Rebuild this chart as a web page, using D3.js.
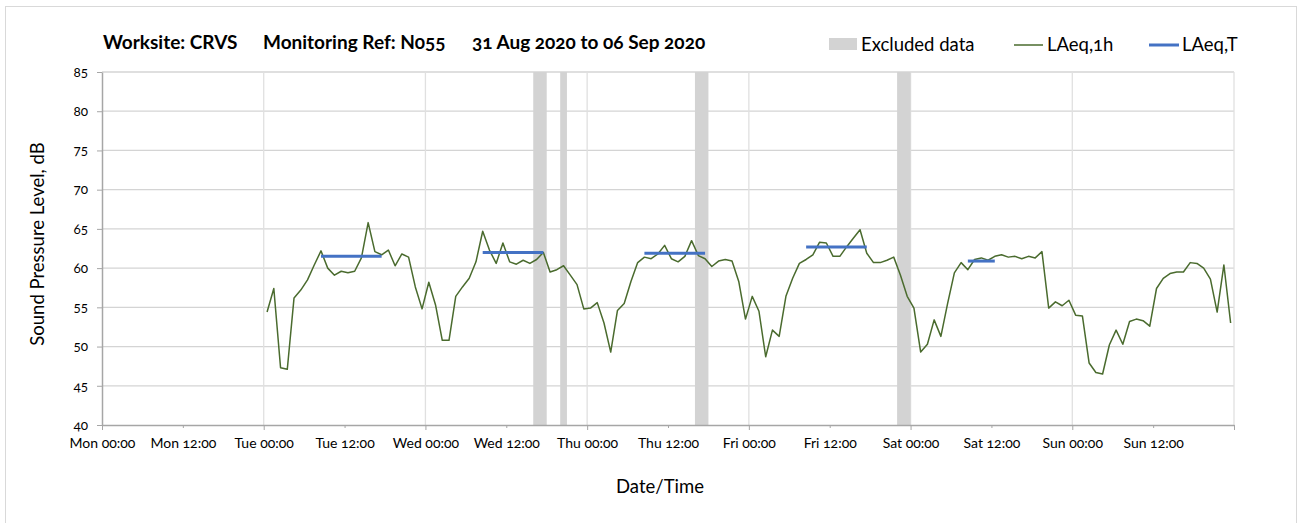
<!DOCTYPE html>
<html>
<head>
<meta charset="utf-8">
<script src="https://cdn.jsdelivr.net/npm/d3@7"></script>
<style>
  body { margin: 0; background: #fff; }
  svg text { font-family: Lato, "Open Sans", sans-serif; font-variant-numeric: oldstyle-nums; fill: #000; }
</style>
</head>
<body>
<svg id="chart" width="1301" height="523"></svg>
<script>
// hourly LAeq,1h readings, one array per day (values at hh:30)
const days = ["2020-09-01", "2020-09-02", "2020-09-03", "2020-09-04", "2020-09-05", "2020-09-06"];
const tueValues = [54.4, 57.4, 47.3, 47.1, 56.2, 57.2, 58.5, 60.4, 62.2, 60.0, 59.1, 59.6, 59.4, 59.6, 61.3, 65.8, 62.1, 61.7, 62.3, 60.3, 61.8, 61.4, 57.6, 54.8];
const wedValues = [58.2, 55.3, 50.8, 50.8, 56.4, 57.6, 58.7, 60.8, 64.7, 62.3, 60.6, 63.2, 60.8, 60.5, 61.0, 60.6, 61.1, 62.0, 59.5, 59.8, 60.3, 59.1, 57.9, 54.8];
const thuValues = [54.9, 55.6, 53.0, 49.3, 54.6, 55.5, 58.3, 60.7, 61.4, 61.2, 61.8, 62.9, 61.2, 60.8, 61.5, 63.5, 61.6, 61.2, 60.2, 60.9, 61.1, 60.9, 58.3, 53.5];
const friValues = [56.4, 54.5, 48.7, 52.1, 51.3, 56.4, 58.7, 60.6, 61.1, 61.7, 63.3, 63.2, 61.5, 61.5, 62.7, 63.8, 64.9, 61.9, 60.7, 60.7, 61.0, 61.4, 59.1, 56.4];
const satValues = [54.9, 49.3, 50.3, 53.4, 51.3, 55.5, 59.4, 60.7, 59.8, 61.1, 61.3, 61.0, 61.5, 61.7, 61.4, 61.5, 61.2, 61.5, 61.3, 62.1, 54.9, 55.7, 55.2, 55.9];
const sunValues = [54.0, 53.9, 47.9, 46.7, 46.5, 50.2, 52.1, 50.3, 53.2, 53.5, 53.3, 52.6, 57.4, 58.7, 59.3, 59.5, 59.5, 60.7, 60.6, 60.0, 58.6, 54.4, 60.4, 53.0];
const dayValues = [tueValues, wedValues, thuValues, friValues, satValues, sunValues];

// LAeq,T over working hours
const periodStarts = ["2020-09-01 08:30", "2020-09-02 08:30", "2020-09-03 08:30", "2020-09-04 08:30", "2020-09-05 08:30"];
const periodEnds = ["2020-09-01 17:30", "2020-09-02 17:30", "2020-09-03 17:30", "2020-09-04 17:30", "2020-09-05 12:30"];
const periodValues = [61.5, 62.0, 61.9, 62.7, 60.9];

// excluded data windows
const excludedStarts = ["2020-09-02 16:00", "2020-09-02 20:00", "2020-09-03 16:00", "2020-09-04 22:00"];
const excludedEnds = ["2020-09-02 18:00", "2020-09-02 21:00", "2020-09-03 18:00", "2020-09-05 00:00"];

const yTicks = [40, 45, 50, 55, 60, 65, 70, 75, 80, 85];

const parse = d3.timeParse("%Y-%m-%d %H:%M");
const margins = {top: 72, bottom: 98, left: 102, right: 67};
const width = 1301, height = 523;

const x = d3.scaleTime()
  .domain([parse("2020-08-31 00:00"), parse("2020-09-07 00:00")])
  .range([margins.left, width - margins.right]);
const y = d3.scaleLinear().domain([40, 85]).range([height - margins.bottom, margins.top]);

const points = [];
days.forEach((day, j) => {
  dayValues[j].forEach((v, h) => {
    points.push({t: parse(`${day} ${String(h).padStart(2, "0")}:30`), v: v});
  });
});

const svg = d3.select("#chart");

// outer frame
svg.append("rect").attr("x", 5.5).attr("y", 6.5).attr("width", 1291).attr("height", 530)
  .attr("fill", "none").attr("stroke", "#d9d9d9").attr("stroke-width", 1);

// gridlines
svg.append("g").selectAll("line").data(yTicks.slice(1)).enter().append("line")
  .attr("x1", x.range()[0]).attr("x2", x.range()[1])
  .attr("y1", d => y(d)).attr("y2", d => y(d))
  .attr("stroke", "#d4d4d4").attr("stroke-width", 1.3);

svg.append("g").selectAll("line").data(d3.timeDay.range(parse("2020-09-01 00:00"), parse("2020-09-07 00:01"))).enter().append("line")
  .attr("x1", d => x(d)).attr("x2", d => x(d))
  .attr("y1", y(85)).attr("y2", y(40))
  .attr("stroke", "#e0e0e0").attr("stroke-width", 1.3);

// excluded bands
svg.append("g").selectAll("rect").data(excludedStarts).enter().append("rect")
  .attr("x", d => x(parse(d)))
  .attr("width", (d, i) => x(parse(excludedEnds[i])) - x(parse(d)))
  .attr("y", y(85)).attr("height", y(40) - y(85))
  .attr("fill", "#d3d3d3");

// LAeq,1h line
svg.append("path").datum(points)
  .attr("d", d3.line().x(d => x(d.t)).y(d => y(d.v)))
  .attr("fill", "none").attr("stroke", "#4a6b2e").attr("stroke-width", 1.5)
  .attr("stroke-linejoin", "round");

// LAeq,T segments
svg.append("g").selectAll("line").data(periodValues).enter().append("line")
  .attr("x1", (d, i) => x(parse(periodStarts[i])))
  .attr("x2", (d, i) => x(parse(periodEnds[i])))
  .attr("y1", d => y(d)).attr("y2", d => y(d))
  .attr("stroke", "#4472c4").attr("stroke-width", 3);

// axes
const lastTick = x.domain()[1].getTime();
const xAxis = d3.axisBottom(x)
  .ticks(d3.timeHour.every(12))
  .tickFormat(d => d.getTime() === lastTick ? "" : d3.timeFormat("%a %H:%M")(d))
  .tickSize(5).tickSizeOuter(0).tickPadding(8);
const xAxisG = svg.append("g").attr("transform", `translate(0, ${y(40)})`).call(xAxis);
xAxisG.select(".domain").attr("stroke", "#a6a6a6").attr("stroke-width", 1.5);
xAxisG.selectAll(".tick line").attr("stroke", "#a6a6a6").attr("stroke-width", 1)
  .attr("y2", d => d.getHours() === 12 ? 3 : 5);
xAxisG.selectAll(".tick text").attr("font-size", 14).style("font-family", "Lato");

const yAxis = d3.axisLeft(y).tickValues(yTicks).tickSize(5).tickSizeOuter(0).tickPadding(9);
const yAxisG = svg.append("g").attr("transform", `translate(${x.range()[0]}, 0)`).call(yAxis);
yAxisG.select(".domain").attr("stroke", "#a6a6a6").attr("stroke-width", 1.5);
yAxisG.selectAll(".tick line").attr("stroke", "#a6a6a6").attr("stroke-width", 1);
yAxisG.selectAll(".tick text").attr("font-size", 13.5).style("font-family", "Lato");

// axis titles
svg.append("text").attr("x", 660).attr("y", 493).attr("text-anchor", "middle")
  .attr("font-size", 18.5).text("Date/Time");
svg.append("text").attr("transform", "translate(44, 244) rotate(-90)").attr("text-anchor", "middle")
  .attr("font-size", 18.5).text("Sound Pressure Level, dB");

// title
const title = svg.append("text").attr("y", 49).attr("font-size", 19).attr("font-weight", "bold");
title.append("tspan").attr("x", 103).text("Worksite: CRVS");
title.append("tspan").attr("x", 263).text("Monitoring Ref: N055");
title.append("tspan").attr("x", 472).text("31 Aug 2020 to 06 Sep 2020");

// legend
const legend = svg.append("g").attr("font-size", 18.5);
legend.append("rect").attr("x", 829).attr("y", 38).attr("width", 28).attr("height", 12).attr("fill", "#d3d3d3");
legend.append("text").attr("x", 861).attr("y", 51).text("Excluded data");
legend.append("line").attr("x1", 1014).attr("x2", 1043).attr("y1", 45).attr("y2", 45)
  .attr("stroke", "#4a6b2e").attr("stroke-width", 1.5);
legend.append("text").attr("x", 1047).attr("y", 51).text("LAeq,1h");
legend.append("line").attr("x1", 1149).attr("x2", 1179).attr("y1", 45).attr("y2", 45)
  .attr("stroke", "#4472c4").attr("stroke-width", 3);
legend.append("text").attr("x", 1182).attr("y", 51).text("LAeq,T");
</script>
</body>
</html>
